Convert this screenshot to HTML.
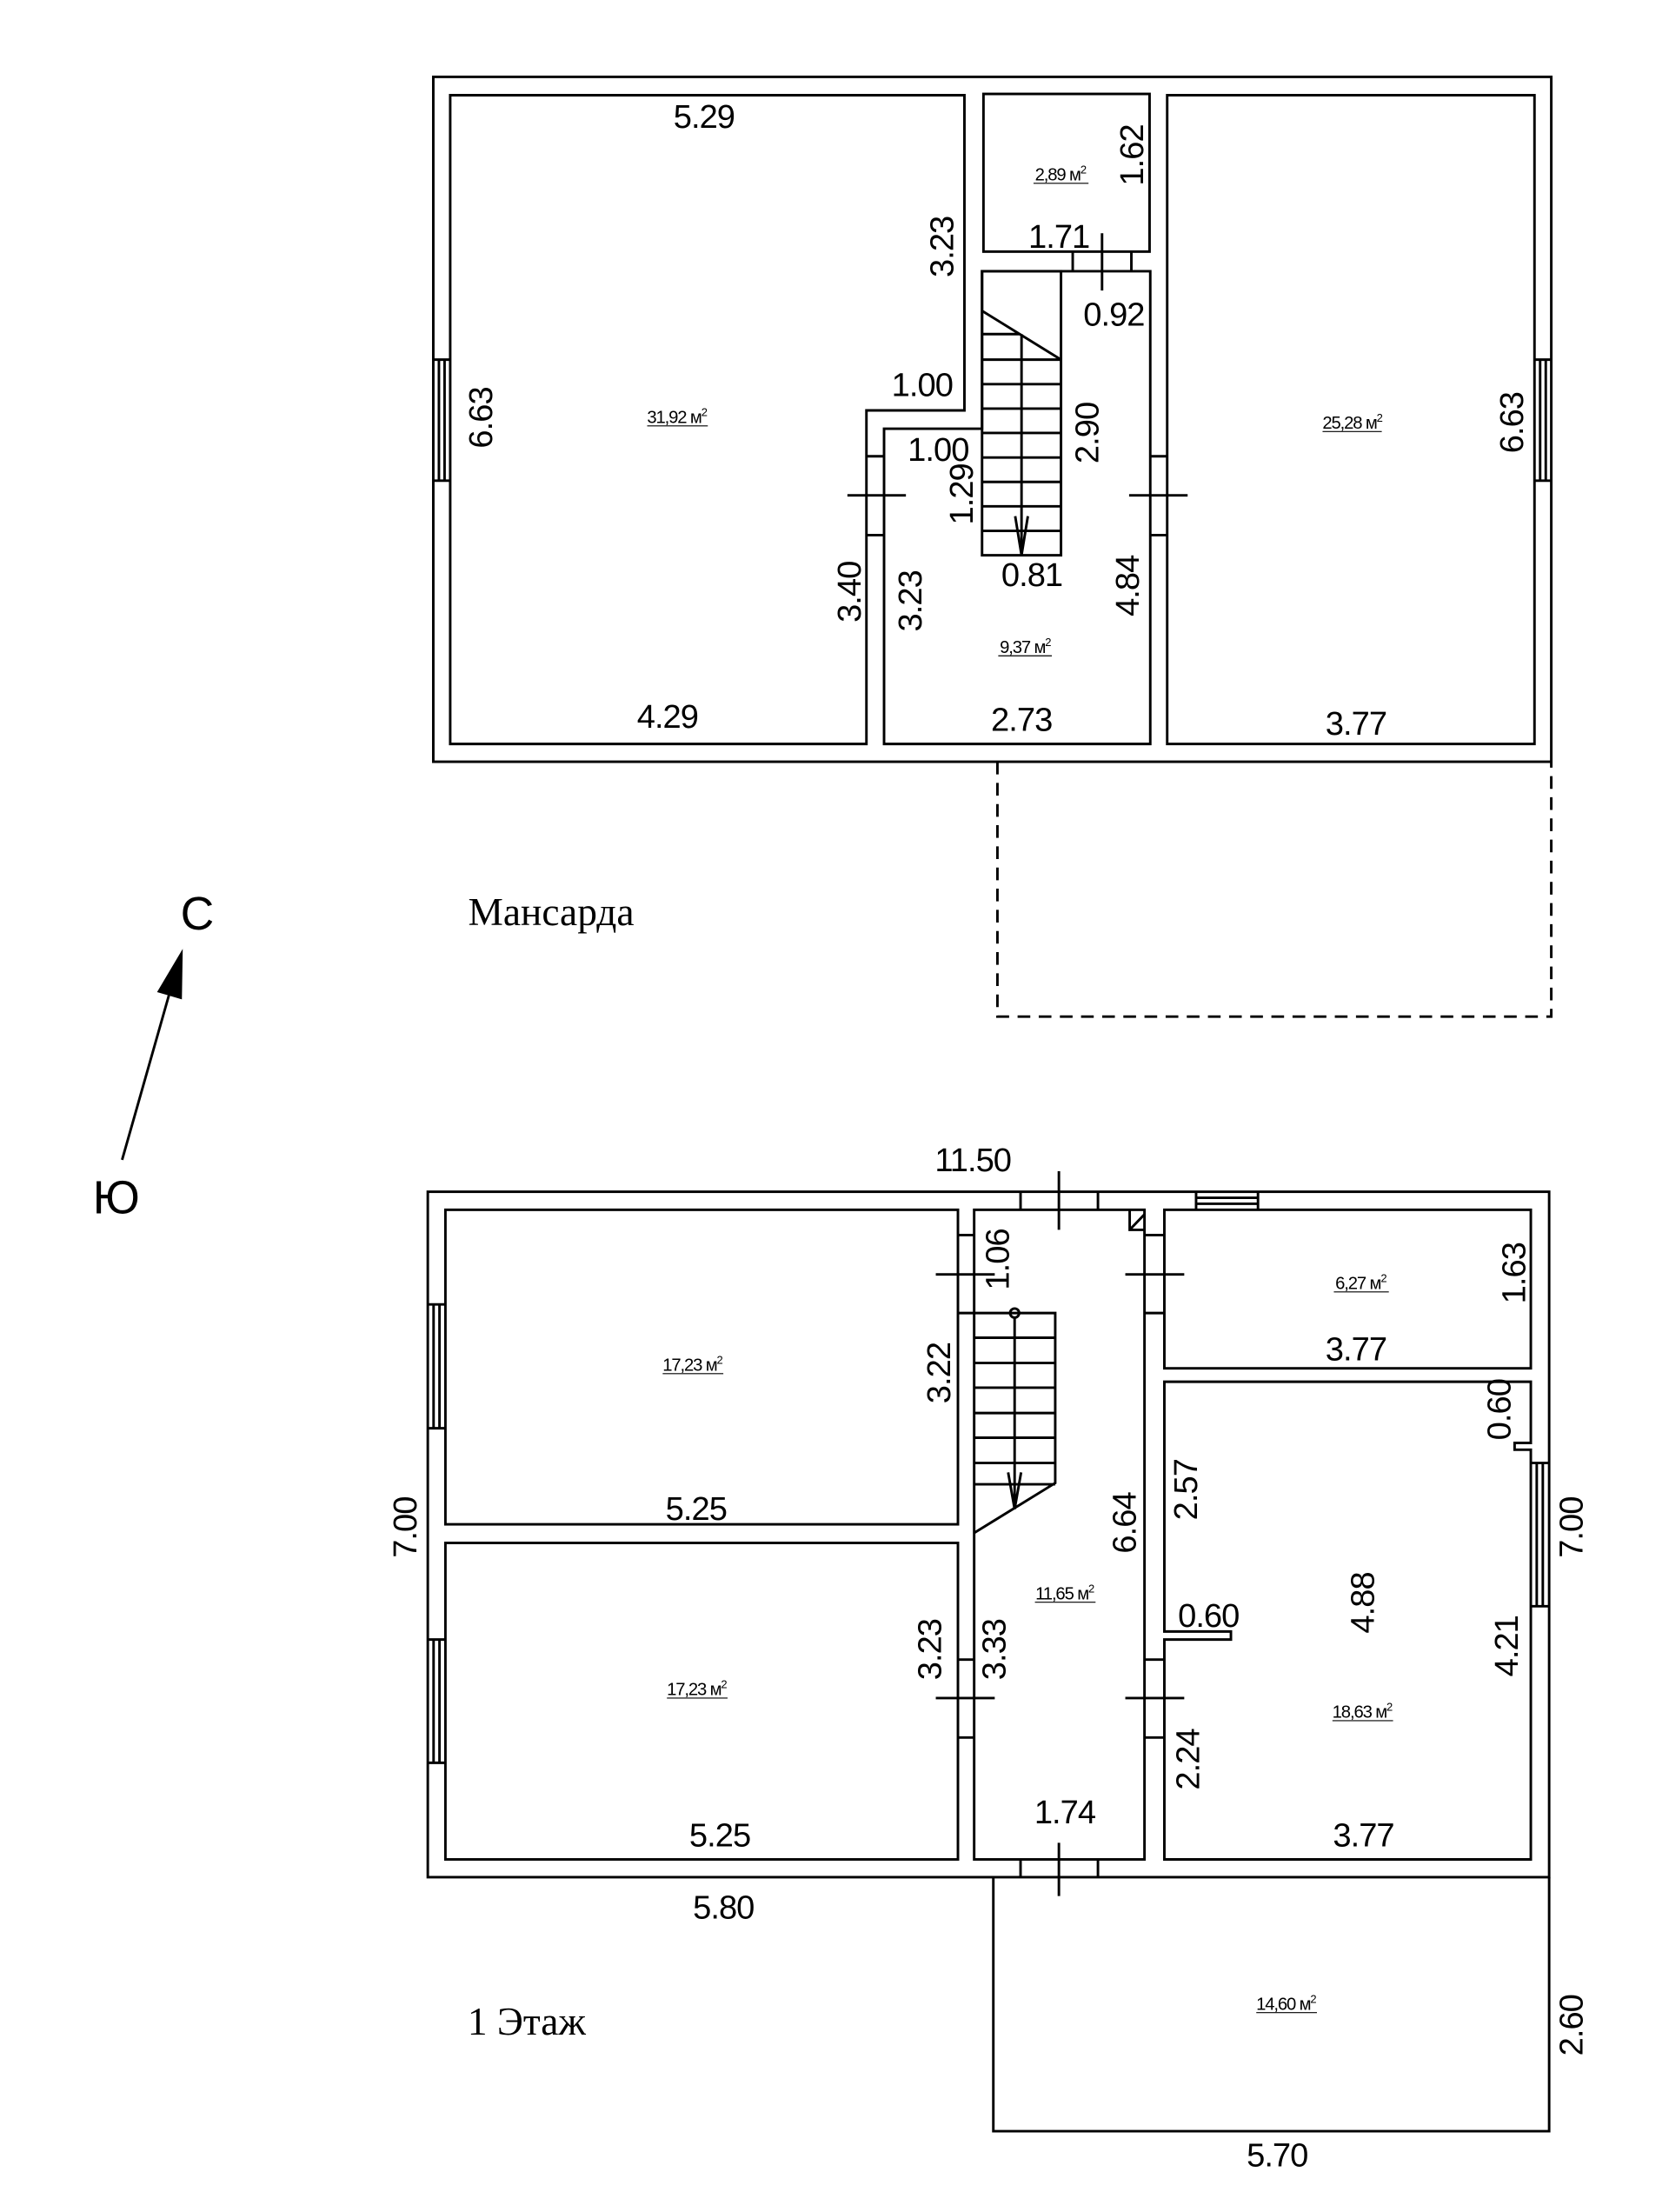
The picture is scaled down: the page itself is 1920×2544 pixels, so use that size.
<!DOCTYPE html>
<html><head><meta charset="utf-8">
<style>
html,body{margin:0;padding:0;background:#fff;}
svg{display:block;}
text{font-family:"Liberation Sans","DejaVu Sans",sans-serif;fill:#000;}
.d{font-size:23.5px;letter-spacing:-0.6px;}
.a{font-size:12.5px;letter-spacing:-0.7px;}
.s{font-size:8px;}
.t{font-family:"Liberation Serif",serif;font-size:28px;}
</style></head>
<body>
<svg width="1920" height="2544" viewBox="0 0 1183.7 1568.4" xmlns="http://www.w3.org/2000/svg">
<g fill="none" stroke="#000" stroke-width="1.8" stroke-linejoin="miter">
<rect x="307.3" y="54.5" width="792.9" height="485.6"/>
<polygon points="319.3,67.5 684,67.5 684,291 614.5,291 614.5,527.5 319.3,527.5"/>
<rect x="697.5" y="66.6" width="117.8" height="111.8"/>
<polygon points="627,304 696.5,304 696.5,192.3 815.8,192.3 815.8,527.5 627,527.5"/>
<rect x="827.8" y="67.5" width="260.5" height="460"/>
<path d="M307.3,255 H319.3 M307.3,340.8 H319.3 M311.3,255 V340.8 M315.3,255 V340.8"/>
<path d="M1088.3,255 H1100.2 M1088.3,340.8 H1100.2 M1092.3,255 V340.8 M1096.3,255 V340.8"/>
<path d="M614.5,323.5 H627 M614.5,379.4 H627 M601,351.2 H642.5"/>
<path d="M815.8,323.5 H827.8 M815.8,379.4 H827.8 M800.8,351.2 H842.3"/>
<path d="M760.8,178.4 V192.3 M802.4,178.4 V192.3 M781.6,165.4 V206"/>
<rect x="696.5" y="192.3" width="56" height="201.4"/>
<path d="M696.5,220.4 L752.5,255 M696.5,236.9 H723 M724.5,236.9 V393.7"/>
<path d="M696.5,255 H752.5 M696.5,272.4 H752.5 M696.5,289.7 H752.5 M696.5,307 H752.5 M696.5,324.4 H752.5 M696.5,341.7 H752.5 M696.5,359 H752.5 M696.5,376.4 H752.5"/>
<path d="M720,366 L724.5,393.7 L729,366"/>
<path d="M707.4,540.1 V720.8 H1100.2 V540.1" stroke-dasharray="9,6"/>

<rect x="303.4" y="845" width="795.3" height="486"/>
<rect x="315.9" y="857.8" width="363.5" height="223"/>
<rect x="315.9" y="1094" width="363.5" height="224.4"/>
<rect x="690.9" y="857.8" width="120.8" height="460.6"/>
<rect x="825.8" y="857.8" width="259.9" height="112.4"/>
<polygon points="825.8,979.7 1085.7,979.7 1085.7,1023.1 1074.2,1023.1 1074.2,1027.9 1085.7,1027.9 1085.7,1318.4 825.8,1318.4 825.8,1162.5 873,1162.5 873,1156.8 825.8,1156.8"/>
<path d="M303.4,924.9 H315.9 M303.4,1012.7 H315.9 M307.5,924.9 V1012.7 M311.7,924.9 V1012.7"/>
<path d="M303.4,1162.5 H315.9 M303.4,1249.9 H315.9 M307.5,1162.5 V1249.9 M311.7,1162.5 V1249.9"/>
<path d="M1085.7,1037.3 H1098.7 M1085.7,1138.9 H1098.7 M1089.9,1037.3 V1138.9 M1094.2,1037.3 V1138.9"/>
<path d="M848.3,845 V857.8 M892.2,845 V857.8 M848.3,849.3 H892.2 M848.3,853.5 H892.2"/>
<path d="M723.8,845 V857.8 M778.7,845 V857.8 M751,830.4 V872"/>
<path d="M723.8,1318.4 V1331 M778.7,1318.4 V1331 M751,1306.6 V1344.4"/>
<path d="M679.4,875.7 H690.9 M679.4,931 H690.9 M663.7,903.6 H705.5"/>
<path d="M679.4,1176.7 H690.9 M679.4,1232 H690.9 M663.7,1204 H705.5"/>
<path d="M811.7,875.7 H825.8 M811.7,931 H825.8 M798.1,903.6 H839.9"/>
<path d="M811.7,1176.7 H825.8 M811.7,1232 H825.8 M798.1,1204 H839.9"/>
<path d="M801.2,857.8 V872 H811.7 M801.2,872 L811.7,861"/>
<path d="M690.9,931 H748.4 V1051.5 L690.9,1086.9"/>
<path d="M690.9,948.5 H748.4 M690.9,966.4 H748.4 M690.9,983.9 H748.4 M690.9,1001.9 H748.4 M690.9,1019.4 H748.4 M690.9,1037.3 H748.4 M690.9,1052.4 H748.4"/>
<circle cx="719.6" cy="931" r="3.2"/>
<path d="M719.6,934.2 V1070 M715,1044 L719.6,1070 L724.2,1044"/>
<path d="M704.5,1331 V1511.1 H1098.7 V1331"/>
<path d="M86.6,822.4 L120,705"/>
</g>
<polygon points="129.6,672.8 111.4,703.4 129,708.6" fill="#000"/>

<g class="d" text-anchor="middle" dominant-baseline="central">
<text x="499.3" y="83.1">5.29</text>
<text transform="translate(668.5,175) rotate(-90)">3.23</text>
<text x="654" y="273.3">1.00</text>
<text x="665.4" y="319.2">1.00</text>
<text transform="translate(682.5,350.4) rotate(-90)">1.29</text>
<text x="731.8" y="408">0.81</text>
<text transform="translate(771.7,307) rotate(-90)">2.90</text>
<text transform="translate(800.3,415.4) rotate(-90)">4.84</text>
<text transform="translate(603.1,419.7) rotate(-90)">3.40</text>
<text transform="translate(646.2,426.2) rotate(-90)">3.23</text>
<text x="724.5" y="510.7">2.73</text>
<text x="473.4" y="508.5">4.29</text>
<text x="961.7" y="513.7">3.77</text>
<text transform="translate(341.6,296.2) rotate(-90)">6.63</text>
<text transform="translate(1072.7,299.7) rotate(-90)">6.63</text>
<text transform="translate(803.4,110) rotate(-90)">1.62</text>
<text x="751" y="168.4">1.71</text>
<text x="790" y="223.5">0.92</text>

<text x="690" y="823">11.50</text>
<text transform="translate(708,893) rotate(-90)">1.06</text>
<text transform="translate(666.3,973.5) rotate(-90)">3.22</text>
<text x="493.7" y="1070.4">5.25</text>
<text transform="translate(660,1169.6) rotate(-90)">3.23</text>
<text transform="translate(705.5,1169.6) rotate(-90)">3.33</text>
<text x="510.5" y="1301.8">5.25</text>
<text transform="translate(798,1079.8) rotate(-90)">6.64</text>
<text x="755.2" y="1285.3">1.74</text>
<text transform="translate(1074.2,902.7) rotate(-90)">1.63</text>
<text x="961.7" y="957">3.77</text>
<text transform="translate(1063.7,999.5) rotate(-90)">0.60</text>
<text transform="translate(841.5,1056.2) rotate(-90)">2.57</text>
<text transform="translate(967,1136.5) rotate(-90)">4.88</text>
<text x="857.1" y="1146">0.60</text>
<text transform="translate(1069,1167.2) rotate(-90)">4.21</text>
<text transform="translate(843.1,1247.5) rotate(-90)">2.24</text>
<text x="967" y="1301.8">3.77</text>
<text x="513.1" y="1352.9">5.80</text>
<text x="905.8" y="1528.6">5.70</text>
<text transform="translate(1115,1436) rotate(-90)">2.60</text>
<text transform="translate(288,1083) rotate(-90)">7.00</text>
<text transform="translate(1115,1083) rotate(-90)">7.00</text>
</g>

<g class="a" text-anchor="middle">
<text x="480" y="300">31,92 м<tspan class="s" dy="-5">2</tspan></text>
<text x="959" y="304">25,28 м<tspan class="s" dy="-5">2</tspan></text>
<text x="752" y="128">2,89 м<tspan class="s" dy="-5">2</tspan></text>
<text x="727" y="463">9,37 м<tspan class="s" dy="-5">2</tspan></text>
<text x="755" y="1134">11,65 м<tspan class="s" dy="-5">2</tspan></text>
<text x="965" y="914">6,27 м<tspan class="s" dy="-5">2</tspan></text>
<text x="966" y="1218">18,63 м<tspan class="s" dy="-5">2</tspan></text>
<text x="491" y="972">17,23 м<tspan class="s" dy="-5">2</tspan></text>
<text x="494" y="1202">17,23 м<tspan class="s" dy="-5">2</tspan></text>
<text x="912" y="1425">14,60 м<tspan class="s" dy="-5">2</tspan></text>
</g>
<g stroke="#000" stroke-width="0.7">
<path d="M459,302 H502 M938,306 H980 M733,130 H772 M708,465 H746 M734,1136 H777 M946,916 H985 M945,1220 H988 M470,974 H513 M473,1204 H516 M891,1427 H934"/>
</g>

<text class="t" x="332" y="656">Мансарда</text>
<text class="t" x="331.6" y="1442.6">1 Этаж</text>
<text x="128" y="659" style="font-size:33px">С</text>
<text x="65.8" y="860.2" style="font-size:33px">Ю</text>
</svg>
</body></html>
